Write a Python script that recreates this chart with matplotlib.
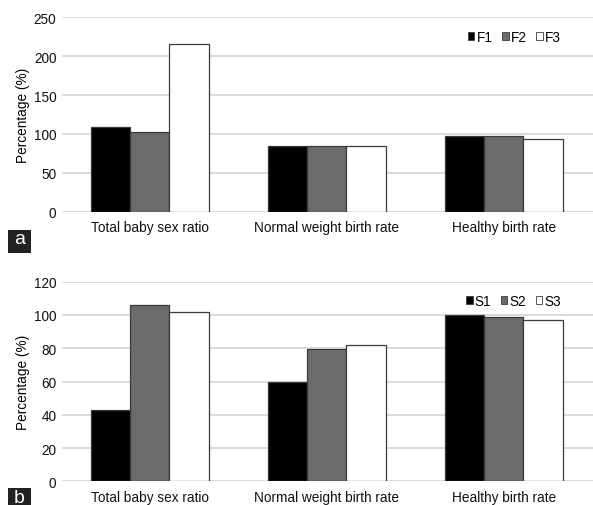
import matplotlib.pyplot as plt
from matplotlib.patches import Rectangle
import numpy as np

plt.rcParams['font.family'] = ['Liberation Sans', 'DejaVu Sans']

categories = ['Total baby sex ratio', 'Normal weight birth rate', 'Healthy birth rate']

# panel a
f_labels = ['F1', 'F2', 'F3']
f1 = [109, 85, 98]
f2 = [102, 85, 98]
f3 = [216, 85, 94]

# panel b
s_labels = ['S1', 'S2', 'S3']
s1 = [43, 60, 100]
s2 = [106, 79.5, 99]
s3 = [101.5, 82, 97]

colors = ['#000000', '#6b6b6b', '#ffffff']
edge = '#3a3a3a'
grid_col = '#d4d4d4'
fs = 9.8

fig = plt.figure(figsize=(5.93, 5.06), dpi=100)
ax_a = fig.add_axes([0.1046, 0.5796, 0.8954, 0.3842])
ax_b = fig.add_axes([0.1046, 0.0468, 0.8954, 0.3945])

x = np.arange(len(categories))
w = 0.222


def draw(ax, series, labels, ymax, step):
    for i, (vals, lab) in enumerate(zip(series, labels)):
        ax.bar(x + (i - 1) * w, vals, w, color=colors[i], edgecolor=edge,
               linewidth=0.9, label=lab, zorder=3)
    ax.set_ylim(0, ymax)
    ax.set_xlim(-0.495, 2.505)
    ax.set_yticks(np.arange(0, ymax + 1, step))
    ax.yaxis.grid(True, color=grid_col, linewidth=1.2, zorder=0)
    for s in ax.spines.values():
        s.set_visible(False)
    ax.tick_params(axis='both', length=0, labelsize=fs, colors='#111111')
    ax.tick_params(axis='x', pad=6)
    ax.tick_params(axis='y', pad=4)
    ax.set_xticks(x)
    ax.set_xticklabels(categories)
    ax.set_ylabel('Percentage (%)', fontsize=fs, labelpad=3)
    ax.set_axisbelow(True)
    leg = ax.legend(ncol=3, frameon=False, fontsize=fs, loc='upper right',
                    bbox_to_anchor=(0.95, 0.965), handlelength=0.5, handleheight=0.5,
                    handletextpad=0.15, columnspacing=0.7, borderaxespad=0)
    for h in leg.legend_handles:
        h.set_linewidth(0.6)


draw(ax_a, [f1, f2, f3], f_labels, 250, 50)
draw(ax_b, [s1, s2, s3], s_labels, 120, 20)

# panel tags: dark boxes with white letter
for tag, ytop in [('a', 230.7), ('b', 489.3)]:
    fig.patches.append(Rectangle((8 / 593, 1 - (ytop + 23) / 506), 23 / 593, 23 / 506,
                                 transform=fig.transFigure, facecolor='#222222',
                                 edgecolor='none'))
    fig.text(19.5 / 593, 1 - (ytop + 9) / 506, tag, color='white', fontsize=14,
             ha='center', va='center')

fig.savefig('out.png', dpi=100)
